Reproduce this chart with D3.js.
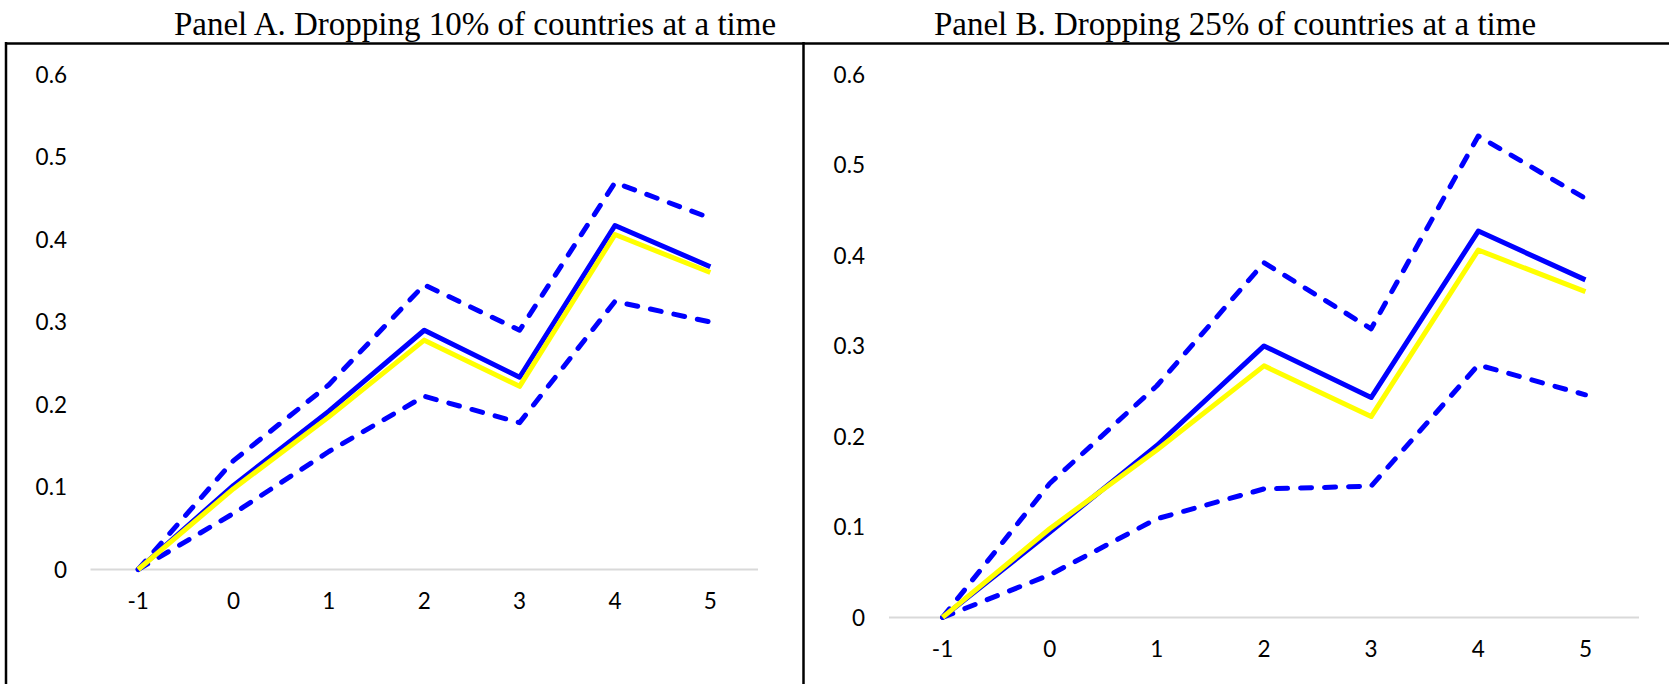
<!DOCTYPE html>
<html>
<head>
<meta charset="utf-8">
<script src="https://cdn.jsdelivr.net/npm/d3@7"></script>
<style>
  body { margin: 0; background: #fff; }
  svg { display: block; }
</style>
</head>
<body>
<svg id="chart" width="1669" height="684"></svg>
<script>
// x categories (event time) and y ticks shared by both panels
var periods = ["-1", "0", "1", "2", "3", "4", "5"];
var yTicks = [0, 0.1, 0.2, 0.3, 0.4, 0.5, 0.6];

// full-sample estimate (yellow), same in both panels
var fullSample = [0, 0.098, 0.185, 0.278, 0.222, 0.406, 0.360];

// Panel A: dropping 10% of countries
var aMean  = [0, 0.102, 0.192, 0.290, 0.233, 0.417, 0.367];
var aUpper = [0, 0.132, 0.224, 0.345, 0.290, 0.469, 0.426];
var aLower = [0, 0.068, 0.143, 0.210, 0.178, 0.325, 0.300];

// Panel B: dropping 25% of countries
var bMean  = [0, 0.094, 0.190, 0.300, 0.243, 0.427, 0.373];
var bUpper = [0, 0.148, 0.256, 0.392, 0.319, 0.532, 0.463];
var bLower = [0, 0.047, 0.109, 0.142, 0.145, 0.279, 0.246];

var titles = [
  "Panel A. Dropping 10% of countries at a time",
  "Panel B. Dropping 25% of countries at a time"
];

var svg = d3.select("#chart");

// frame: top rule, left edge, divider between panels
svg.append("line").attr("x1", 5).attr("x2", 1669).attr("y1", 43.5).attr("y2", 43.5)
  .attr("stroke", "#000").attr("stroke-width", 2.5);
svg.append("line").attr("x1", 6).attr("x2", 6).attr("y1", 42).attr("y2", 684)
  .attr("stroke", "#000").attr("stroke-width", 2.5);
svg.append("line").attr("x1", 803.5).attr("x2", 803.5).attr("y1", 42).attr("y2", 684)
  .attr("stroke", "#000").attr("stroke-width", 2.5);

var panels = [
  { title: titles[0], titleX: 475, left: 90.5, right: 758, zeroY: 569.5, topY: 74.5,
    labelX: 67, tickY: 601, mean: aMean, upper: aUpper, lower: aLower },
  { title: titles[1], titleX: 1235, left: 889, right: 1639, zeroY: 617.4, topY: 74.5,
    labelX: 865, tickY: 649, mean: bMean, upper: bUpper, lower: bLower }
];

panels.forEach(function(p) {
  var g = svg.append("g");

  g.append("text")
    .attr("x", p.titleX).attr("y", 35)
    .attr("text-anchor", "middle")
    .attr("font-family", "'Liberation Serif', 'Times New Roman', serif")
    .attr("font-size", 33)
    .attr("fill", "#000")
    .text(p.title);

  var x = d3.scalePoint().domain(periods).range([p.left, p.right]).padding(0.5);
  var y = d3.scaleLinear().domain([0, 0.6]).range([p.zeroY, p.topY]);

  // y labels (no axis line)
  g.selectAll(".ylab").data(yTicks).enter().append("text")
    .attr("class", "ylab")
    .attr("x", p.labelX)
    .attr("y", d => y(d))
    .attr("dy", "0.36em")
    .attr("text-anchor", "end")
    .attr("font-family", "Lato, 'Open Sans', sans-serif")
    .attr("font-size", 22.5)
    .attr("fill", "#000")
    .text(d => d === 0 ? "0" : d3.format(".1f")(d));

  // zero baseline
  g.append("line")
    .attr("x1", p.left).attr("x2", p.right)
    .attr("y1", y(0)).attr("y2", y(0))
    .attr("stroke", "#d9d9d9").attr("stroke-width", 2);

  // x labels
  g.selectAll(".xlab").data(periods).enter().append("text")
    .attr("class", "xlab")
    .attr("x", d => x(d))
    .attr("y", p.tickY)
    .attr("dy", "0.36em")
    .attr("text-anchor", "middle")
    .attr("font-family", "Lato, 'Open Sans', sans-serif")
    .attr("font-size", 22.5)
    .attr("fill", "#000")
    .text(d => d);

  var line = d3.line()
    .x((d, i) => x(periods[i]))
    .y(d => y(d));

  [p.upper, p.lower].forEach(function(s) {
    g.append("path").datum(s)
      .attr("d", line)
      .attr("fill", "none")
      .attr("stroke", "#0000ff")
      .attr("stroke-width", 5)
      .attr("stroke-linecap", "round")
      .attr("stroke-linejoin", "round")
      .attr("stroke-dasharray", "11,13");
  });

  g.append("path").datum(p.mean)
    .attr("d", line)
    .attr("fill", "none")
    .attr("stroke", "#0000ff")
    .attr("stroke-width", 5)
    .attr("stroke-linejoin", "round");

  g.append("path").datum(fullSample)
    .attr("d", line)
    .attr("fill", "none")
    .attr("stroke", "#ffff00")
    .attr("stroke-width", 5)
    .attr("stroke-linejoin", "round");
});
</script>
</body>
</html>
